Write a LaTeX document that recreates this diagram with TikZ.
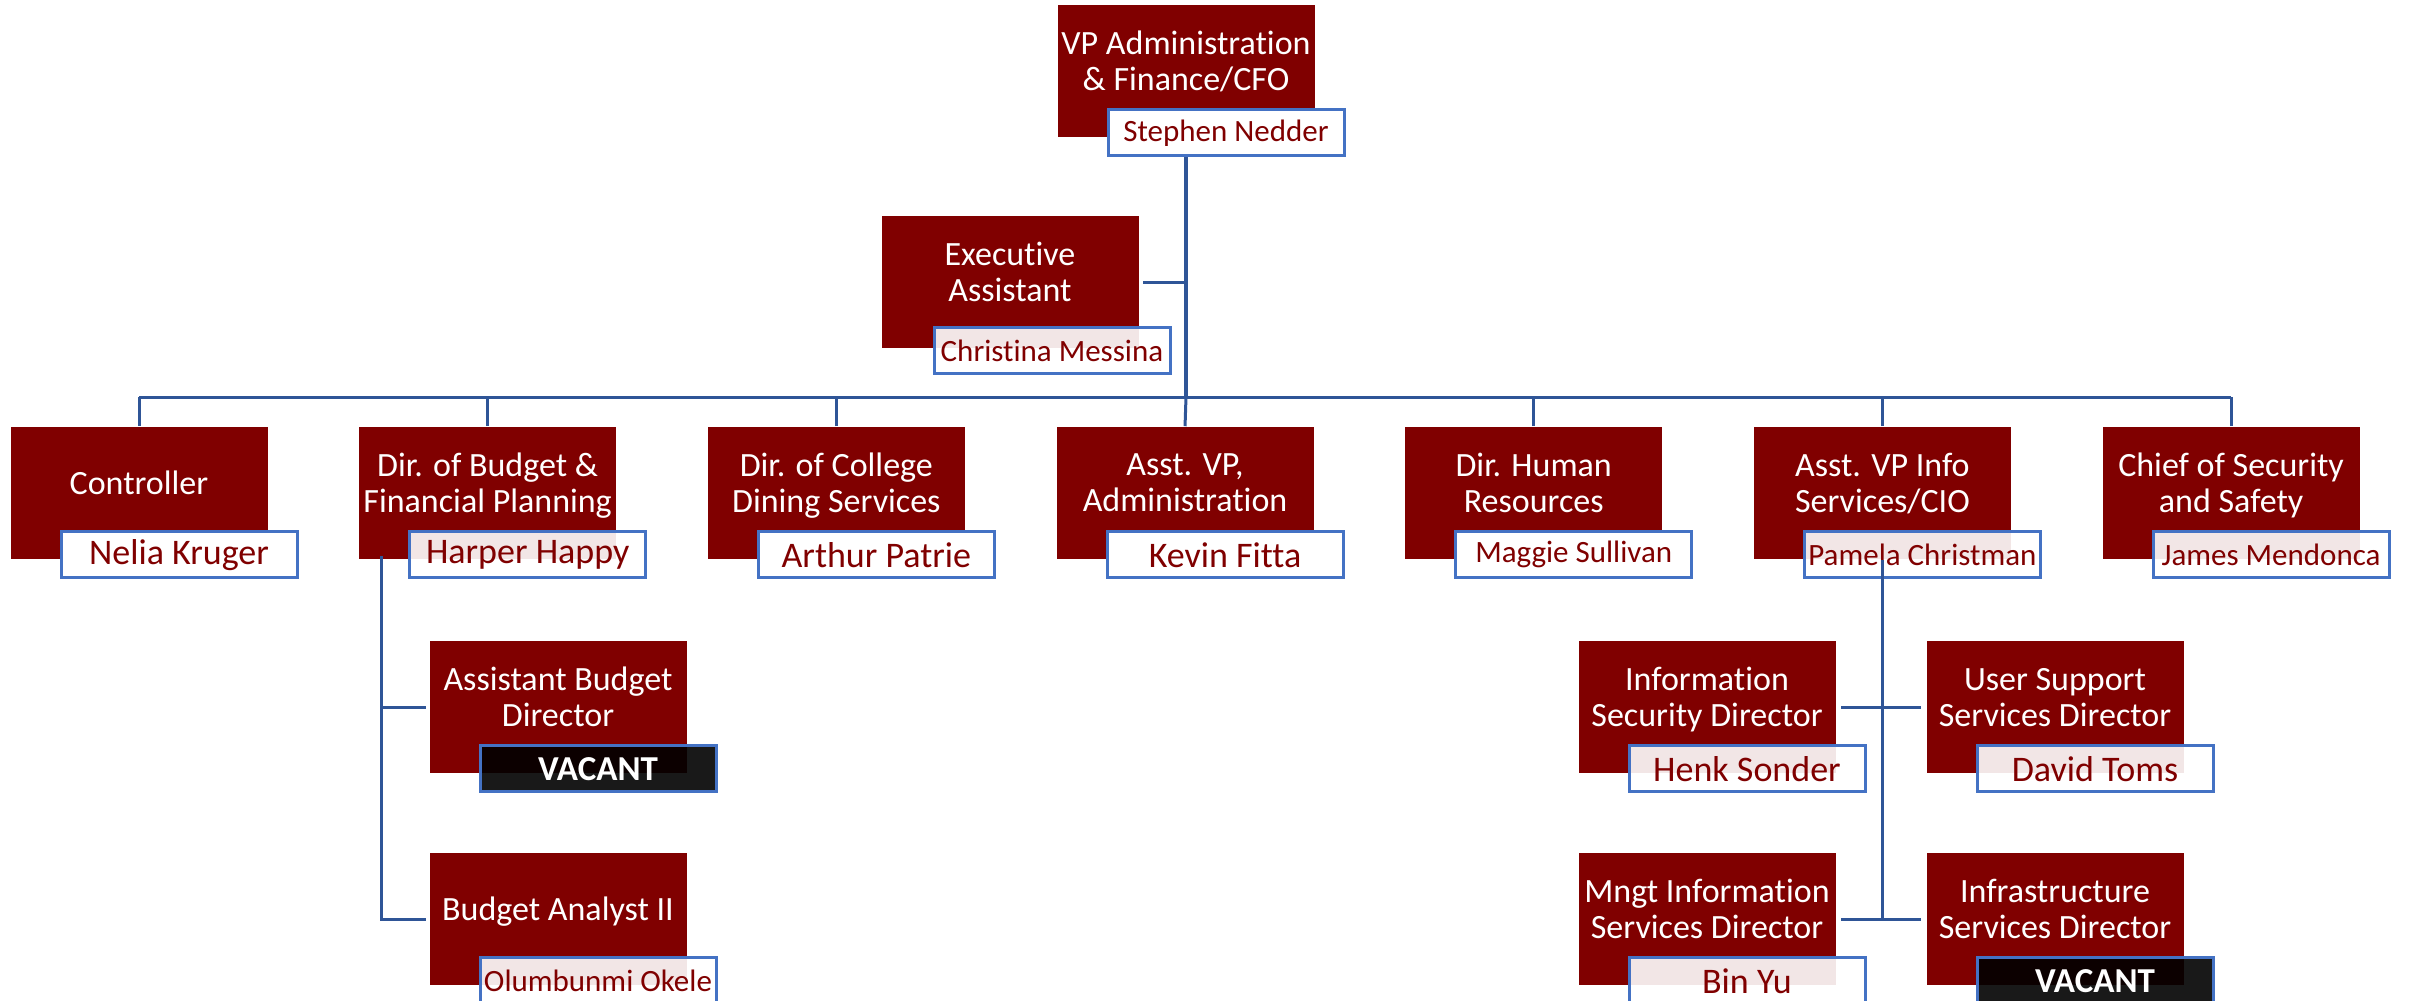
\documentclass[tikz,border=0pt]{standalone}
\usepackage{fontspec}
\setmainfont{Carlito}[Ligatures=NoCommon]
\usetikzlibrary{positioning,calc}

\definecolor{maroon}{RGB}{128,0,0}
\definecolor{linkblue}{RGB}{47,85,151}
\definecolor{boxblue}{RGB}{68,114,196}

\begin{document}
\begin{tikzpicture}[x=0.25pt,y=0.25pt]
  \tikzstyle{every node}=[inner sep=0,align=center]
  \tikzstyle{post}=[fill=maroon,text=white,minimum width=64.25pt,minimum height=33pt,
    font=\fontsize{8.5}{9}\selectfont,execute at end node={\rule[-5pt]{0pt}{0pt}}]
  \tikzstyle{person}=[draw=boxblue,line width=0.75pt,fill=white,fill opacity=0.9,text opacity=1,
    text=maroon,minimum width=59pt,minimum height=11.5pt]
  \tikzstyle{big}=[font=\fontsize{9}{10}\selectfont]
  \tikzstyle{small}=[font=\fontsize{7.75}{8}\selectfont]
  \tikzstyle{vacant}=[person,fill=black,text=white,font=\bfseries\fontsize{8.75}{9}\selectfont]
  \tikzstyle{link}=[draw=linkblue,line width=0.75pt]

  \useasboundingbox (0,0) rectangle (2412,-1000);

  % top and assistant
  \node[post] (vp) at (1186,-71) {VP Administration\\\& Finance/CFO};
  \node[person,small,opaque] (vpn) at ($(vp.south)+(40,5)$) {Stephen Nedder};
  \node[post] (ea) at (1010,-282) {Executive\\Assistant};
  \node[person,small] (ean) at ($(ea.south)+(42,-2)$) {Christina Messina};

  % second row
  \node[post] (ctl) at (139,-493) {Controller};
  \node[post,node distance=87.17pt] (bud) [right of=ctl] {Dir. of Budget \&\\Financial Planning};
  \node[post,node distance=87.17pt] (din) [right of=bud] {Dir. of College\\Dining Services};
  \node[post,node distance=87.17pt] (avp) [right of=din] {Asst. VP,\\Administration};
  \node[post,node distance=87.17pt] (hr) [right of=avp] {Dir. Human\\Resources};
  \node[post,node distance=87.17pt] (cio) [right of=hr] {Asst. VP Info\\Services/CIO};
  \node[post,node distance=87.17pt] (sec) [right of=cio] {Chief of Security\\and Safety};
  \node[person,big,opaque] (ctln) at ($(ctl.south)+(40,5)$) {Nelia Kruger};
  \node[person,big] (budn) at ($(bud.south)+(40,5)$) {Harper Happy};
  \node[person,big,opaque] (dinn) at ($(din.south)+(40,5)$) {Arthur Patrie};
  \node[person,big,opaque] (avpn) at ($(avp.south)+(40,5)$) {Kevin Fitta};
  \node[person,small,opaque] (hrn) at ($(hr.south)+(40,5)$) {Maggie Sullivan};
  \node[person,small] (cion) at ($(cio.south)+(40,5)$) {Pamela Christman};
  \node[person,small] (secn) at ($(sec.south)+(40,5)$) {James Mendonca};

  % budget office
  \node[post] (abd) at (558,-707) {Assistant Budget\\Director};
  \node[post] (ba) at (558,-919) {Budget Analyst II};
  \node[vacant] (abdn) at ($(abd.south)+(40,5)$) {VACANT};
  \node[person,small] (ban) at ($(ba.south)+(40,5)$) {Olumbunmi Okele};

  % information services
  \node[post] (isd) at (1707,-707) {Information\\Security Director};
  \node[post] (usd) at (2055,-707) {User Support\\Services Director};
  \node[post] (mis) at (1707,-919) {Mngt Information\\Services Director};
  \node[post] (inf) at (2055,-919) {Infrastructure\\Services Director};
  \node[person,big] (isdn) at ($(isd.south)+(40,5)$) {Henk Sonder};
  \node[person,big] (usdn) at ($(usd.south)+(40,5)$) {David Toms};
  \node[person,big] (misn) at ($(mis.south)+(40,5)$) {Bin Yu};
  \node[vacant] (infn) at ($(inf.south)+(40,5)$) {VACANT};

  % connectors
  \coordinate (bus) at (0,-397);
  \draw[link,line width=1pt] (vp.south |- vpn.south) -- (vp.south |- bus);
  \draw[link] (vp.south |- bus) -- (avp.north);
  \draw[link,shorten <=1pt] (ea.east) -- (ea.east -| vp.south);
  \draw[link] (ctl.north |- bus) -- (sec.north |- bus);
  \foreach \n in {ctl,bud,din,hr,cio,sec}
    \draw[link] (\n.north) -- (\n.north |- bus);

  \draw[link,shorten >=0.75pt] (bud.south west) ++(23,4) coordinate (bt) -- (bt |- ba.west) -- (ba.west);
  \draw[link,shorten >=0.75pt] (bt |- abd.west) -- (abd.west);

  \draw[link] (cio.south) -- (cio.south |- mis.east);
  \draw[link,shorten <=1.25pt,shorten >=1.25pt] (isd.east) -- (usd.west);
  \draw[link,shorten <=1.25pt,shorten >=1.25pt] (mis.east) -- (inf.west);
\end{tikzpicture}
\end{document}
